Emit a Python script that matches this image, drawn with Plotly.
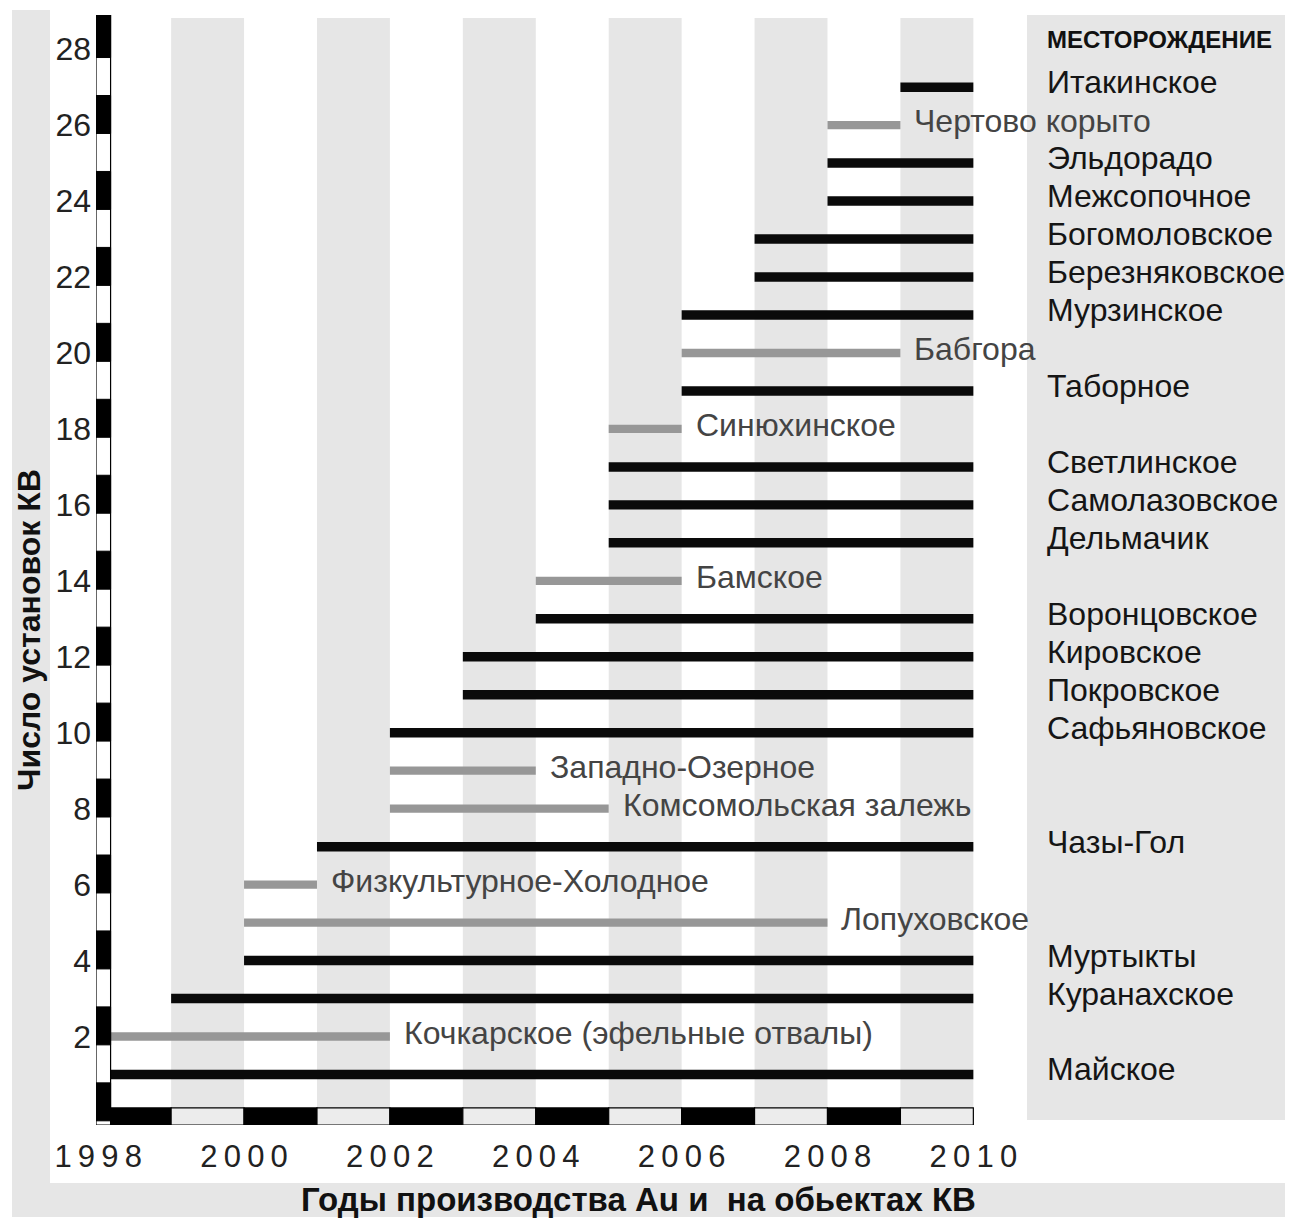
import plotly.graph_objects as go

# ---------------- data ----------------
deposit_names = [
    "Майское", "Кочкарское (эфельные отвалы)", "Куранахское", "Муртыкты", "Лопуховское",
    "Физкультурное-Холодное", "Чазы-Гол", "Комсомольская залежь", "Западно-Озерное",
    "Сафьяновское", "Покровское", "Кировское", "Воронцовское", "Бамское", "Дельмачик",
    "Самолазовское", "Светлинское", "Синюхинское", "Таборное", "Бабгора", "Мурзинское",
    "Березняковское", "Богомоловское", "Межсопочное", "Эльдорадо", "Чертово корыто",
    "Итакинское",
]
install_count = list(range(1, 28))
start_year = [1998, 1998, 1999, 2000, 2000, 2000, 2001, 2002, 2002, 2002, 2003, 2003, 2004,
              2004, 2005, 2005, 2005, 2005, 2006, 2006, 2006, 2007, 2007, 2008, 2008, 2008, 2009]
end_year = [2010, 2002, 2010, 2010, 2008, 2001, 2010, 2005, 2004, 2010, 2010, 2010, 2010,
            2006, 2010, 2010, 2010, 2006, 2010, 2009, 2010, 2010, 2010, 2010, 2010, 2009, 2010]
status = ["active", "closed", "active", "active", "closed", "closed", "active", "closed",
          "closed", "active", "active", "active", "active", "closed", "active", "active",
          "active", "closed", "active", "closed", "active", "active", "active", "active",
          "active", "closed", "active"]
year_ticks = [1998, 2000, 2002, 2004, 2006, 2008, 2010]
count_ticks = list(range(2, 29, 2))
header_text = "МЕСТОРОЖДЕНИЕ"
y_title = "Число установок КВ"
x_title = "Годы производства Au и  на обьектах КВ"

# ---------------- layout constants ----------------
PAGE_OFF = 8                      # default body margin of the html page
W, H = 1293 - PAGE_OFF, 1219 - PAGE_OFF
L, R, T, B = 96 - PAGE_OFF, 316, 15 - PAGE_OFF, 94
PW, PH = W - L - R, H - T - B
X0, X1 = 1997.97, 2010.05
Y0, Y1 = -0.33, 28.9
FONT = "Liberation Sans, Arial, sans-serif"
GREY_BG = "#e6e6e6"


def pxx(px):
    """page pixel x -> paper coordinate"""
    return (px - PAGE_OFF - L) / PW


def pxy(py):
    """page pixel y -> paper coordinate"""
    return (H - B - (py - PAGE_OFF)) / PH


fig = go.Figure()

for st, col, w in [("active", "#0a0a0a", 0.25), ("closed", "#979797", 0.22)]:
    idx = [i for i, s in enumerate(status) if s == st]
    fig.add_trace(go.Bar(
        orientation="h",
        y=[install_count[i] for i in idx],
        base=[start_year[i] for i in idx],
        x=[end_year[i] - start_year[i] for i in idx],
        width=w,
        marker=dict(color=col, line=dict(width=0)),
        hovertext=[deposit_names[i] for i in idx],
        showlegend=False,
    ))

shapes = []
# outer frame and side panel (pixel based decoration)
shapes.append(dict(type="rect", xref="paper", yref="paper", x0=pxx(12), x1=pxx(50),
                   y0=pxy(1217), y1=pxy(10), fillcolor=GREY_BG, line_width=0, layer="below"))
shapes.append(dict(type="rect", xref="paper", yref="paper", x0=pxx(12), x1=pxx(1293),
                   y0=pxy(1217), y1=pxy(1183), fillcolor=GREY_BG, line_width=0, layer="below"))
shapes.append(dict(type="rect", xref="paper", yref="paper", x0=pxx(1027), x1=pxx(1291),
                   y0=pxy(1120), y1=pxy(15), fillcolor=GREY_BG, line_width=0, layer="below"))

# vertical year stripes
for yr in range(year_ticks[0] + 1, year_ticks[-1], 2):
    shapes.append(dict(type="rect", xref="x", yref="y", x0=yr, x1=yr + 1, y0=0.12, y1=28.82,
                       fillcolor=GREY_BG, line_width=0, layer="below"))

# checkered x axis bar
XB0, XB1 = Y0, 0.12
for yr in range(year_ticks[0], year_ticks[-1]):
    black = (yr - year_ticks[0]) % 2 == 0
    x0 = X0 if yr == year_ticks[0] else yr
    shapes.append(dict(type="rect", xref="x", yref="y", x0=x0, x1=yr + 1, y0=XB0, y1=XB1,
                       fillcolor="#000000" if black else "#ececec",
                       line=dict(color="#000000", width=1.2), layer="above"))

# checkered y axis bar
YB0, YB1 = X0, 1998.17
shapes.append(dict(type="rect", xref="x", yref="y", x0=YB0, x1=YB1, y0=Y0, y1=Y1,
                   fillcolor="#ffffff", line=dict(color="#000000", width=1.2), layer="above"))
for j in range(0, 15):
    lo = max(Y0, 2 * j - 0.22)
    hi = min(Y1, 2 * j + 0.78)
    if j == 14:
        hi = Y1
    shapes.append(dict(type="rect", xref="x", yref="y", x0=YB0, x1=YB1, y0=lo, y1=hi,
                       fillcolor="#000000", line=dict(color="#000000", width=1), layer="above"))

annotations = []
for i, nm in enumerate(deposit_names):
    if status[i] == "active":
        annotations.append(dict(x=pxx(1045), xref="paper", y=install_count[i], yref="y",
                                text=nm, showarrow=False, xanchor="left", yanchor="middle",
                                yshift=5, font=dict(family=FONT, size=32, color="#151515")))
    else:
        annotations.append(dict(x=end_year[i], xref="x", y=install_count[i], yref="y",
                                text=nm, showarrow=False, xanchor="left", yanchor="middle",
                                xshift=12, yshift=4, font=dict(family=FONT, size=32, color="#444444")))

annotations.append(dict(x=pxx(1045), xref="paper", y=pxy(40), yref="paper", text="<b>" + header_text + "</b>",
                        showarrow=False, xanchor="left", yanchor="middle",
                        font=dict(family=FONT, size=24, color="#111111")))
annotations.append(dict(x=pxx(29), xref="paper", y=pxy(630), yref="paper", text="<b>" + y_title + "</b>",
                        showarrow=False, textangle=-90, xanchor="center", yanchor="middle",
                        font=dict(family=FONT, size=32, color="#111111")))
annotations.append(dict(x=pxx(638), xref="paper", y=pxy(1199), yref="paper", text="<b>" + x_title + "</b>",
                        showarrow=False, xanchor="center", yanchor="middle",
                        font=dict(family=FONT, size=33, color="#111111")))

fig.update_layout(
    width=W, height=H,
    margin=dict(l=L, r=R, t=T, b=B, pad=0),
    paper_bgcolor="#ffffff", plot_bgcolor="rgba(0,0,0,0)",
    barmode="overlay",
    shapes=shapes, annotations=annotations,
    showlegend=False,
    xaxis=dict(range=[X0, X1], showgrid=False, zeroline=False, showline=False, ticks="",
               tickvals=year_ticks, ticktext=["\u2009".join(str(y)) for y in year_ticks],
               tickfont=dict(family=FONT, size=31, color="#222222"), ticklabelstandoff=10,
               fixedrange=True),
    yaxis=dict(range=[Y0, Y1], showgrid=False, zeroline=False, showline=False, ticks="",
               tickvals=count_ticks, ticktext=[str(v) for v in count_ticks],
               tickfont=dict(family=FONT, size=32, color="#222222"), ticklabelstandoff=4,
               fixedrange=True),
)

fig.write_html("out.html")
